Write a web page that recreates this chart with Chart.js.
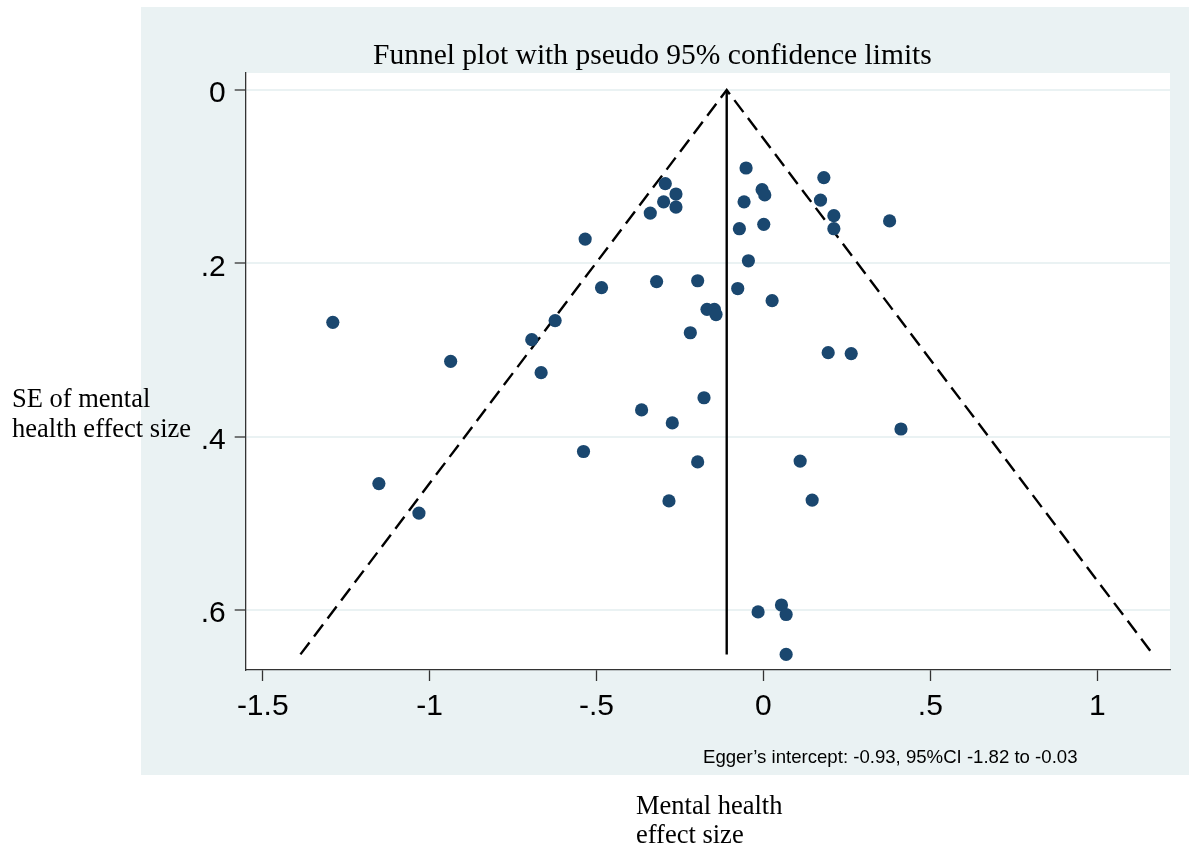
<!DOCTYPE html>
<html>
<head>
<meta charset="utf-8">
<script src="https://cdn.jsdelivr.net/npm/chart.js@4.4.1/dist/chart.umd.min.js"></script>
<style>
  body { margin: 0; background: #fff; }
  #wrap { position: relative; width: 1189px; height: 853px; overflow: hidden; }
  #panel { position: absolute; left: 141px; top: 7px; width: 1048px; height: 768px; background: #eaf2f3; }
  #chart { position: absolute; left: 0; top: 0; }
  .lbl { position: absolute; white-space: nowrap; color: #000; }
  .serif { font-family: "Liberation Serif", "DejaVu Serif", serif; }
  .sans { font-family: "Liberation Sans", Arial, sans-serif; }
</style>
</head>
<body>
<div id="wrap">
  <div id="panel"></div>
  <canvas id="chart" width="1189" height="853"></canvas>
  <div class="lbl serif" style="left:373px; top:40px; font-size:29.5px; line-height:1;">Funnel plot with pseudo 95% confidence limits</div>
  <div class="lbl serif" style="left:12px; top:383px; font-size:26.5px; line-height:30px;">SE of mental<br>health effect size</div>
  <div class="lbl serif" style="left:636px; top:791px; font-size:26.5px; line-height:29px;">Mental health<br>effect size</div>
  <div class="lbl sans" style="left:703px; top:748px; font-size:18.6px; line-height:1;">Egger’s intercept: -0.93, 95%CI -1.82 to -0.03</div>
</div>
<script>
// study effect sizes and their standard errors
const effectSize = [
  -0.052, 0.181, -0.294, -0.262, -0.004, 0.004, -0.299, -0.262, -0.339, -0.058,
  0.171, 0.211, 0.378, 0.211, -0.072, 0.001, -0.534, -0.045, -0.197, -0.320,
  -0.485, -0.077, 0.026, -0.169, -0.147, -0.142, -0.624, -1.290, -0.219, -0.694,
  0.194, 0.263, -0.937, -0.666, -0.178, -0.365, -0.273, 0.412, -0.539, -0.197,
  0.110, -1.152, -1.032, -0.283, 0.146, -0.016, 0.054, 0.068, 0.068
];
const standardError = [
  0.090, 0.101, 0.108, 0.120, 0.115, 0.121, 0.129, 0.135, 0.142, 0.129,
  0.127, 0.145, 0.151, 0.160, 0.160, 0.155, 0.172, 0.197, 0.220, 0.221,
  0.228, 0.229, 0.243, 0.253, 0.253, 0.259, 0.266, 0.268, 0.280, 0.288,
  0.303, 0.304, 0.313, 0.326, 0.355, 0.369, 0.384, 0.391, 0.417, 0.429,
  0.428, 0.454, 0.488, 0.474, 0.473, 0.602, 0.594, 0.605, 0.651
];

// pseudo 95% limits (dashed) and pooled estimate (solid)
const funnelX = [-1.387, -0.110, 1.167];
const funnelY = [0.651, 0.000, 0.651];
const pooledX = [-0.110, -0.110];
const pooledY = [0.000, 0.651];

const xTicks = [-1.5, -1, -0.5, 0, 0.5, 1];
const yTicks = [0, 0.2, 0.4, 0.6];

const toPoints = (xs, ys) => xs.map((x, i) => ({ x: x, y: ys[i] }));
const fmt = (v) => (v === 0 ? "0" : String(v).replace("0.", "."));

// white plot region on top of the grey panel
const plotBackground = {
  id: "plotBackground",
  beforeDraw(chart) {
    const { ctx, chartArea: a } = chart;
    ctx.save();
    ctx.fillStyle = "#ffffff";
    ctx.fillRect(a.left, a.top, a.right - a.left, a.bottom - a.top);
    ctx.restore();
  }
};

const tickFont = { family: "'Liberation Sans', Arial, sans-serif", size: 30 };
const axisColor = "#333333";

new Chart(document.getElementById("chart"), {
  type: "scatter",
  data: {
    datasets: [
      {
        data: toPoints(effectSize, standardError),
        backgroundColor: "#1a476f",
        borderColor: "#1a476f",
        borderWidth: 0,
        pointRadius: 6.6
      },
      {
        data: toPoints(funnelX, funnelY),
        showLine: true,
        borderColor: "#000",
        borderWidth: 2.4,
        borderDash: [15, 7.5],
        pointRadius: 0
      },
      {
        data: toPoints(pooledX, pooledY),
        showLine: true,
        borderColor: "#000",
        borderWidth: 2.4,
        pointRadius: 0
      }
    ]
  },
  options: {
    responsive: false,
    animation: false,
    events: [],
    layout: { padding: { left: 145.7, right: 19, top: 73, bottom: 123 } },
    plugins: { legend: { display: false }, tooltip: { enabled: false } },
    scales: {
      x: {
        type: "linear",
        min: -1.551,
        max: 1.218,
        afterBuildTicks: (s) => { s.ticks = xTicks.map((v) => ({ value: v })); },
        afterFit: (s) => { s.height = 60; },
        ticks: { callback: fmt, font: tickFont, color: "#000", padding: 8, maxRotation: 0, autoSkip: false },
        grid: { drawOnChartArea: false, tickLength: 11, tickColor: axisColor, tickWidth: 1.3 },
        border: { color: axisColor, width: 1.3 }
      },
      y: {
        type: "linear",
        reverse: true,
        min: -0.0196,
        max: 0.669,
        afterBuildTicks: (s) => { s.ticks = yTicks.map((v) => ({ value: v })); },
        afterFit: (s) => { s.width = 100; },
        ticks: { callback: fmt, font: tickFont, color: "#000", padding: 9, labelOffset: 4, autoSkip: false },
        grid: { color: "#eaf2f3", lineWidth: 2, tickLength: 11, tickColor: axisColor, tickWidth: 1.3 },
        border: { color: axisColor, width: 1.3 }
      }
    }
  },
  plugins: [plotBackground]
});
</script>
</body>
</html>
